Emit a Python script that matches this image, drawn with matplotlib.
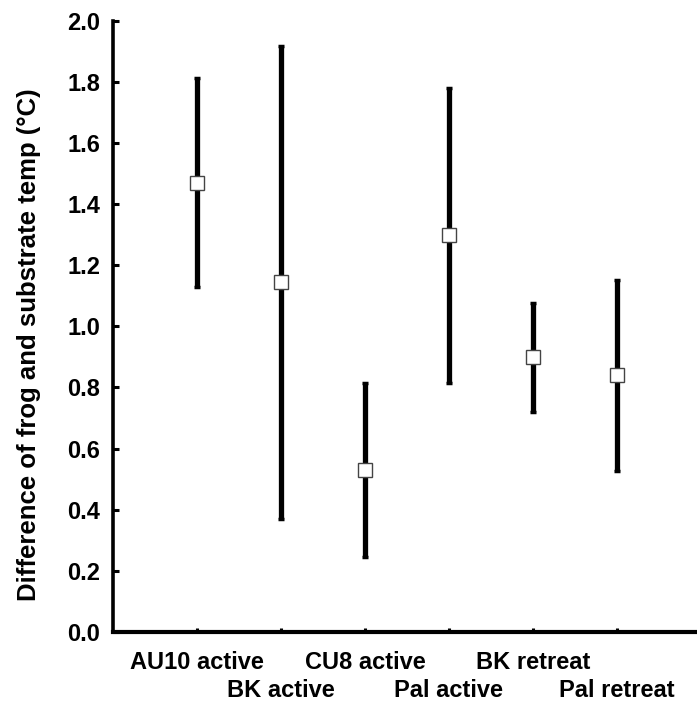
import matplotlib
matplotlib.use("Agg")
import matplotlib.pyplot as plt

categories = ["AU10 active", "BK active", "CU8 active", "Pal active", "BK retreat", "Pal retreat"]
means = [1.47, 1.145, 0.53, 1.30, 0.90, 0.84]
upper = [1.813, 1.915, 0.814, 1.78, 1.076, 1.150]
lower = [1.128, 0.369, 0.246, 0.815, 0.72, 0.527]
yticks = [0.0, 0.2, 0.4, 0.6, 0.8, 1.0, 1.2, 1.4, 1.6, 1.8, 2.0]

plt.rcParams['font.family'] = ['Liberation Sans', 'DejaVu Sans']
plt.rcParams['font.weight'] = 'bold'

fig = plt.figure(figsize=(6.97, 7.02), dpi=100)
ax = fig.add_axes([113/697, 70/702, 1 - 113/697, (632-20.5)/702])

x = list(range(1, len(categories) + 1))
yerr = [[m - l for m, l in zip(means, lower)], [u - m for m, u in zip(means, upper)]]
ax.errorbar(x, means, yerr=yerr, fmt='none', ecolor='black', elinewidth=3.8,
            capsize=2.5, capthick=2.5, zorder=2)
ax.plot(x, means, linestyle='none', marker='s', markersize=9.4,
        markerfacecolor='white', markeredgecolor='#444444', markeredgewidth=1.0, zorder=3)

ax.set_xlim(0, (697 - 113) / 84)
ax.set_ylim(0, 2.0)
ax.set_yticks(yticks)
ax.set_yticklabels([f"{v:.1f}" for v in yticks])

# alternate rows: odd-positioned categories as major ticks, even as minor ticks
ax.set_xticks(x[0::2])
ax.set_xticklabels(categories[0::2])
ax.set_xticks(x[1::2], minor=True)
ax.set_xticklabels(categories[1::2], minor=True)

for s in ['top', 'right']:
    ax.spines[s].set_visible(False)
ax.spines['left'].set_linewidth(2.6)
ax.spines['bottom'].set_linewidth(3.0)
ax.tick_params(axis='y', direction='in', length=4, width=2.2, labelsize=17, pad=9)
ax.tick_params(axis='x', which='major', direction='in', length=3, width=2.2, labelsize=17, pad=14)
ax.tick_params(axis='x', which='minor', direction='in', length=3, width=2.2, labelsize=17, pad=34)

ax.set_ylabel("Difference of frog and substrate temp (°C)", fontsize=18.5, fontweight='bold')
ax.yaxis.set_label_coords(-(113 - 41) / 584, 0.47)

fig.savefig("out.png", dpi=100)
